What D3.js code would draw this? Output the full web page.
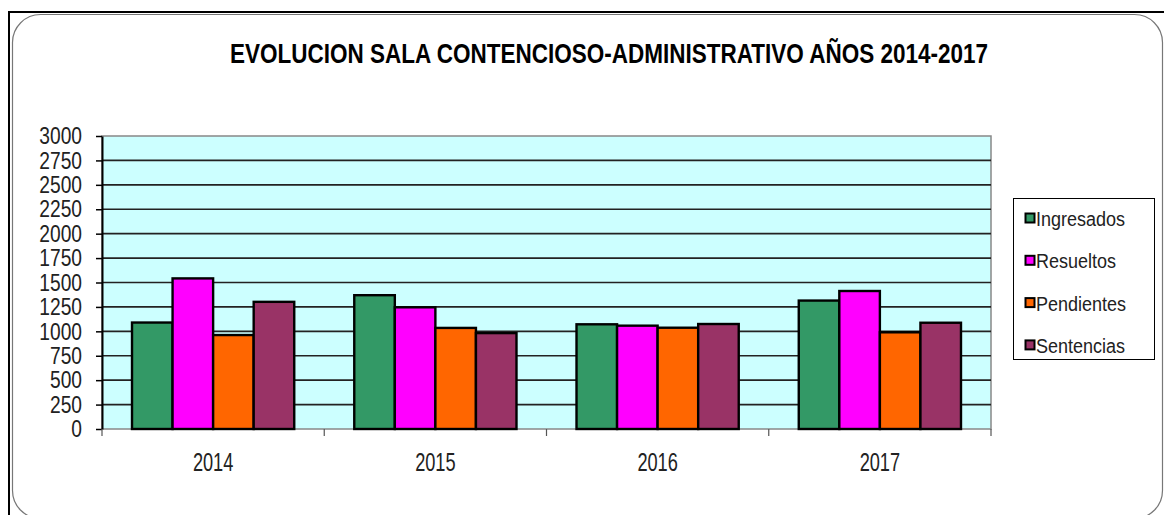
<!DOCTYPE html>
<html>
<head>
<meta charset="utf-8">
<script src="https://cdn.jsdelivr.net/npm/d3@7"></script>
<style>
  body { margin: 0; background: #fff; }
  text { font-family: "Liberation Sans", Arial, sans-serif; }
</style>
</head>
<body>
<script>
// chart data
const years = ["2014", "2015", "2016", "2017"];
const seriesNames = ["Ingresados", "Resueltos", "Pendientes", "Sentencias"];
const ingresados = [1090, 1370, 1072, 1315];
const resueltos = [1542, 1246, 1058, 1413];
const pendientes = [962, 1035, 1037, 990];
const sentencias = [1302, 982, 1075, 1088];
const yTicks = [0, 250, 500, 750, 1000, 1250, 1500, 1750, 2000, 2250, 2500, 2750, 3000];
const seriesColors = ["#339966", "#ff00ff", "#ff6600", "#993366"];

const values = [ingresados, resueltos, pendientes, sentencias];

const width = 1164;
const height = 515;

const svg = d3.select('body')
  .append('svg')
  .attr('width', width)
  .attr('height', height);

// squeeze text horizontally, the original is a stretched picture
function squeeze(sel, k) {
  sel.each(function() {
    const w = this.getComputedTextLength();
    d3.select(this)
      .attr('textLength', w * k)
      .attr('lengthAdjust', 'spacingAndGlyphs');
  });
}

// outer frame
svg.append('rect')
  .attr('x', 12.5).attr('y', 14.5)
  .attr('width', 1150).attr('height', 504)
  .attr('rx', 28).attr('ry', 28)
  .attr('fill', '#fff')
  .attr('stroke', '#777')
  .attr('stroke-width', 1.2);

svg.append('path')
  .attr('d', 'M9,515V12H1164')
  .attr('fill', 'none')
  .attr('stroke', '#000')
  .attr('stroke-width', 2);

// title
const title = svg.append('text')
  .attr('x', 230)
  .attr('y', 63)
  .attr('font-size', 27)
  .attr('font-weight', 'bold')
  .attr('fill', '#000')
  .text('EVOLUCION SALA CONTENCIOSO-ADMINISTRATIVO AÑOS 2014-2017');
title.attr('textLength', 758).attr('lengthAdjust', 'spacingAndGlyphs');

// scales
const plotLeft = 102, plotRight = 991, plotTop = 136, plotBottom = 429;

const x0 = d3.scaleBand()
  .domain(years)
  .range([plotLeft, plotRight])
  .padding(0);

const x1 = d3.scaleBand()
  .domain(seriesNames)
  .range([0, x0.bandwidth()])
  .paddingInner(0)
  .paddingOuter(0.74);

const y = d3.scaleLinear()
  .domain([0, 3000])
  .range([plotBottom, plotTop]);

// plot background
svg.append('rect')
  .attr('x', plotLeft).attr('y', plotTop)
  .attr('width', plotRight - plotLeft).attr('height', plotBottom - plotTop)
  .attr('fill', '#ccffff')
  .attr('stroke', '#888')
  .attr('stroke-width', 1.5);

// gridlines
svg.append('g')
  .selectAll('line')
  .data(yTicks.filter((d) => d > 0 && d < 3000))
  .join('line')
    .attr('x1', plotLeft).attr('x2', plotRight)
    .attr('y1', (d) => y(d)).attr('y2', (d) => y(d))
    .attr('stroke', '#222')
    .attr('stroke-width', 1.6);

// bars
const groups = svg.append('g')
  .selectAll('g')
  .data(years)
  .join('g')
    .attr('transform', (d) => `translate(${x0(d)},0)`);

groups.selectAll('rect')
  .data((d, i) => seriesNames.map((s, j) => ({ series: s, value: values[j][i], color: seriesColors[j] })))
  .join('rect')
    .attr('x', (d) => x1(d.series))
    .attr('y', (d) => y(d.value))
    .attr('width', x1.bandwidth())
    .attr('height', (d) => plotBottom - y(d.value))
    .attr('fill', (d) => d.color)
    .attr('stroke', '#000')
    .attr('stroke-width', 2.4);

// y axis
const yAxis = svg.append('g')
  .attr('transform', `translate(${plotLeft},0)`)
  .call(d3.axisLeft(y).tickValues(yTicks).tickFormat(d3.format('d'))
    .tickSize(6).tickPadding(14).tickSizeOuter(0));
yAxis.select('.domain').attr('stroke', '#000').attr('stroke-width', 2);
yAxis.selectAll('.tick line').attr('stroke', '#000').attr('stroke-width', 1.5);
yAxis.selectAll('text')
  .attr('font-size', 24)
  .attr('fill', '#222')
  .attr('font-family', '"Liberation Sans", Arial, sans-serif');
squeeze(yAxis.selectAll('text'), 0.8);

// x axis: ticks at the category boundaries
const xAxis = svg.append('g');
xAxis.selectAll('line')
  .data(years.map((d) => x0(d)).concat([plotRight]))
  .join('line')
    .attr('x1', (d) => d).attr('x2', (d) => d)
    .attr('y1', plotBottom).attr('y2', plotBottom + 7)
    .attr('stroke', '#555')
    .attr('stroke-width', 1.2);

const xLabels = xAxis.selectAll('text')
  .data(years)
  .join('text')
    .attr('x', (d) => x0(d) + x0.bandwidth() / 2)
    .attr('y', 471)
    .attr('text-anchor', 'middle')
    .attr('font-size', 26)
    .attr('fill', '#222')
    .text((d) => d);
squeeze(xLabels, 0.7);

// legend
const legend = svg.append('g');
legend.append('rect')
  .attr('x', 1013.5).attr('y', 198.5)
  .attr('width', 141).attr('height', 161)
  .attr('fill', '#fff')
  .attr('stroke', '#000')
  .attr('stroke-width', 1);

const legendRows = legend.selectAll('g')
  .data(seriesNames)
  .join('g')
    .attr('transform', (d, i) => `translate(1025,${218 + i * 42.3})`);

legendRows.append('rect')
  .attr('x', 0.5).attr('y', -4.5)
  .attr('width', 9).attr('height', 9)
  .attr('fill', (d, i) => seriesColors[i])
  .attr('stroke', '#000')
  .attr('stroke-width', 2);

const legendText = legendRows.append('text')
  .attr('x', 11)
  .attr('y', 8)
  .attr('font-size', 20)
  .attr('fill', '#222')
  .text((d) => d);
squeeze(legendText, 0.9);
</script>
</body>
</html>
